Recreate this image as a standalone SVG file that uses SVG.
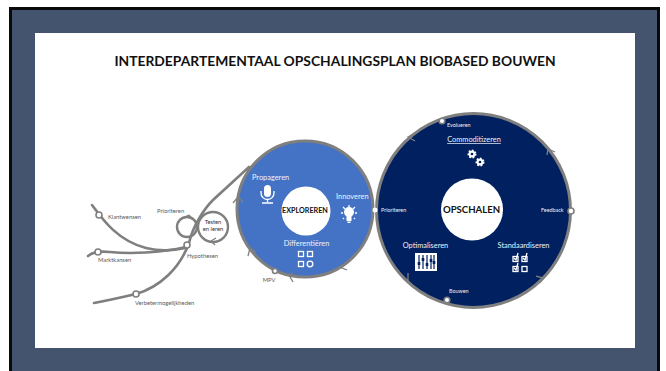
<svg xmlns="http://www.w3.org/2000/svg" width="666" height="371" viewBox="0 0 666 371">
<style>
text{font-family:Lato,"Liberation Sans",sans-serif}
.t{font-size:5.8px;fill:#595959}
.w{font-size:5.400px;fill:#eef1f6}
.h{font-size:7.400px;fill:#eef2f9}
.b{font-weight:700;fill:#111}
.l{fill:none;stroke:#7f7f7f;stroke-width:2.600;stroke-linecap:round}
.a{fill:none;stroke:#7f7f7f;stroke-width:1.300}
.n{fill:#fff;stroke:#7f7f7f;stroke-width:1.600}
.i{fill:none;stroke:#fff;stroke-width:1.300}
.c{fill:none;stroke:#7f7f7f;stroke-width:2.400}
.g{fill:#fff;stroke:#fff;stroke-width:2;stroke-dasharray:1.600 1.600}
</style>
<rect width="666" height="371" fill="#fff"/>
<path d="M10.500 371V8.500H658.500V371" fill="#44546f" stroke="#0a0a0a" stroke-width="3"/>
<rect x="35" y="33" width="600" height="315" fill="#fff"/>
<text class="b" x="335" y="66" text-anchor="middle" font-size="13.850">INTERDEPARTEMENTAAL OPSCHALINGSPLAN BIOBASED BOUWEN</text>
<g id="connectors">
<path class="l" d="M92 205C103 220 118 241 146 248C158 251 172 251 185 248"/>
<path class="l" d="M88 256C93 252 98 251 110 252C130 254 160 253 186 247"/>
<path class="l" d="M94 303C110 300 123 297 136 294C160 287 180 268 189 243C193 225 205 208 213 200L249 167"/>
<circle class="c" cx="187" cy="227" r="10"/>
<circle class="c" cx="213" cy="227" r="15"/>
<path class="a" d="M189 215l-4 2M189 215l3 4M211 241l5-3M211 241l4 4"/>
</g>
<g id="explore">
<circle cx="305" cy="209" r="68" fill="#4472c4" stroke="#7f7f7f" stroke-width="3"/>
<circle cx="306" cy="211" r="24.500" fill="#fff"/>
<text class="b" x="305" y="212.500" text-anchor="middle" font-size="7.200">EXPLOREREN</text>
<text class="h" x="252" y="180">Propageren</text>
<text class="h" x="336" y="199">Innoveren</text>
<text class="h" x="306.500" y="246" text-anchor="middle">Differentiëren</text>
<rect x="264" y="185" width="7" height="12" rx="3.500" fill="#fff"/>
<path class="i" d="M261 191v2a6.500 6.500 0 0 0 13 0v-2M267.500 199v3M262 203h11"/>
<circle cx="349" cy="212" r="5" fill="#fff"/>
<path d="M346.500 215h5v6h-5zM347.500 221.500h3v1.500h-3z" fill="#fff"/>
<path class="i" d="M349 205v3M343 207l2 2M355 207l-2 2M341 213h2M355 213h2M343 219l1-1M355 219l-1-1" stroke-width="1"/>
<g class="i"><rect x="298.500" y="251.500" width="5" height="5"/><rect x="307.500" y="251.500" width="5" height="5"/><rect x="298.500" y="261.500" width="5" height="5"/><circle cx="310" cy="264" r="2.800"/></g>
<path class="a" d="M233 203l5-6 5 5M248 256l2-8 6 4M293 273l-4 2 4 7M347 262l-7 5 7 3"/>
<circle class="n" cx="275" cy="271" r="2.500"/>
<text class="t" x="269" y="282" text-anchor="middle">MPV</text>
</g>
<g id="opschalen">
<circle cx="473.500" cy="210.500" r="97" fill="#002060" stroke="#7f7f7f" stroke-width="3"/>
<circle cx="472" cy="209.500" r="31" fill="#fff"/>
<text class="b" x="471.500" y="213" text-anchor="middle" font-size="9.600">OPSCHALEN</text>
<text class="w" x="447" y="127">Evolueren</text>
<text class="h" x="474" y="142" text-anchor="middle" text-decoration="underline">Commoditizeren</text>
<circle class="g" cx="472" cy="154" r="3.500"/><circle class="g" cx="480" cy="162" r="3.500"/>
<circle cx="472" cy="154" r="1.300" fill="#002060"/><circle cx="480" cy="162" r="1.300" fill="#002060"/>
<text class="w" x="381" y="212">Prioriteren</text>
<text class="w" x="541" y="212">Feedback</text>
<text class="h" x="425.500" y="248" text-anchor="middle">Optimaliseren</text>
<text class="h" x="523.500" y="248" text-anchor="middle">Standaardiseren</text>
<text class="w" x="449" y="293">Bouwen</text>
<rect x="415" y="253" width="22" height="18" fill="#fff"/>
<path d="M419 255v14M423 255v14M427 255v14M431 255v14M434 255v14" stroke="#002060" stroke-width="1.200"/>
<path d="M419 262v3M423 258v3M427 263v3M431 259v3M434 261v3" stroke="#002060" stroke-width="2.600"/>
<g class="i"><rect x="513" y="256.500" width="5" height="5"/><rect x="522" y="256.500" width="5" height="5"/><rect x="513" y="266.500" width="5" height="5"/><rect x="522" y="266.500" width="5" height="5"/></g>
<path class="i" d="M514 258l2 2 2-7M523 258l2 2 2-7M514 268l2 2 2-7" stroke-width="1"/>
<path class="a" d="M415 133l-7 4 7 4M547 155l1-6 7 3M536 276l7 2-3 5M408 273v7l-6-3"/>
<circle class="n" cx="442" cy="121" r="2.800"/>
<circle class="n" cx="571" cy="211" r="3"/>
<circle class="n" cx="447" cy="300" r="2.800"/>
</g>
<circle cx="375" cy="210" r="2.500" fill="#fff"/>
<g id="labels">
<circle class="n" cx="99" cy="215" r="3"/>
<circle class="n" cx="98" cy="252" r="3"/>
<circle class="n" cx="187" cy="245" r="3"/>
<circle class="n" cx="136" cy="294" r="3"/>
<text class="t" x="108" y="219">Klantwensen</text>
<text class="t" x="98" y="262">Marktkansen</text>
<text class="t" x="157" y="213">Prioriteren</text>
<text class="t" x="187" y="258">Hypothesen</text>
<text class="t" x="135" y="305">Verbetermogelijkheden</text>
<text class="t" x="213" y="224" text-anchor="middle" style="fill:#333">Testen</text>
<text class="t" x="213" y="231" text-anchor="middle" style="fill:#333">en leren</text>
</g>
</svg>
